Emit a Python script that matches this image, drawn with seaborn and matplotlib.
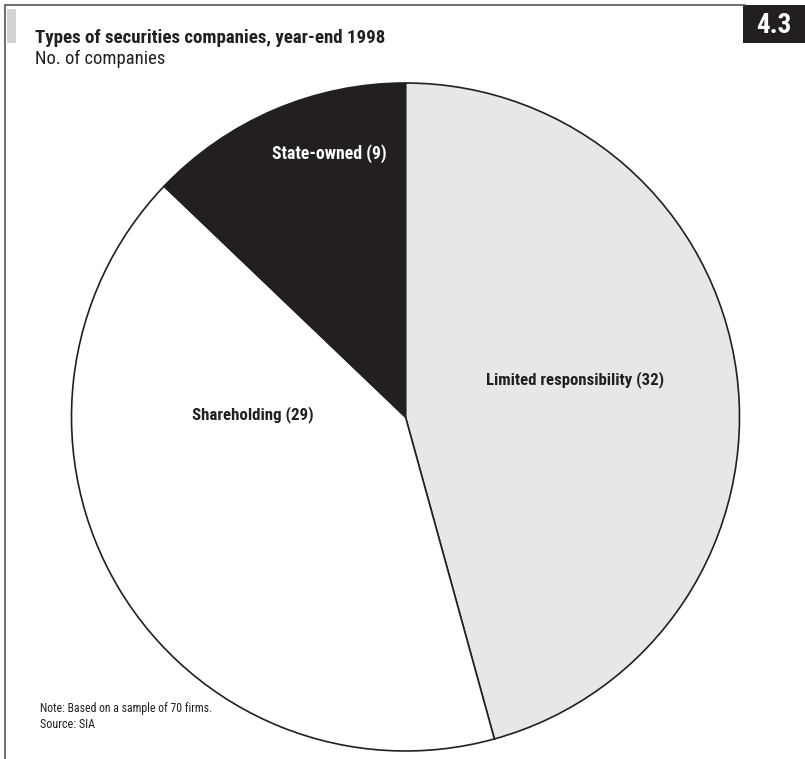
import matplotlib
matplotlib.use("Agg")
import matplotlib.pyplot as plt
import matplotlib.patches as mpatches
import seaborn as sns
from matplotlib import font_manager

# Data
categories = ["Limited responsibility", "Shareholding", "State-owned"]
counts = [32, 29, 9]
colors = ["#e6e7e8", "#ffffff", "#231f20"]
label_colors = ["#231f20", "#231f20", "#ffffff"]

title = "Types of securities companies, year-end 1998"
subtitle = "No. of companies"
note_lines = ["Note: Based on a sample of 70 firms.", "Source: SIA"]
chart_no = "4.3"

sns.set_theme(style="white")
names = {f.name for f in font_manager.fontManager.ttflist}
main_font = next((f for f in ["Roboto Condensed", "Open Sans Condensed",
                              "Liberation Sans Narrow", "Lato", "Open Sans"]
                  if f in names), "DejaVu Sans")
plt.rcParams["font.family"] = [main_font, "DejaVu Sans"]

W, H = 805, 759
fig = plt.figure(figsize=(W / 100, H / 100), dpi=100)
fig.patch.set_facecolor("white")

def px(x, y):
    return x / W, 1 - y / H

# frame lines and marker bar
fig.add_artist(plt.Line2D([5 / W, 5 / W], [0, 1 - 5 / H], color="#555555", lw=1.2))
fig.add_artist(plt.Line2D([5 / W, 745 / W], [1 - 5 / H, 1 - 5 / H], color="#555555", lw=1.2))
fig.add_artist(mpatches.Rectangle(px(7, 43), 9 / W, 34 / H, color="#d1d3d4", lw=0))
fig.add_artist(mpatches.Rectangle(px(743, 43), 62 / W, 38 / H, color="#231f20", lw=0))

renderer = fig.canvas.get_renderer()

def fit_text(x, y, s, target_w, weight="normal", color="#231f20", ha="left", va="baseline", size=12):
    t = fig.text(*px(x, y), s, fontsize=size, fontweight=weight, color=color, ha=ha, va=va)
    w = t.get_window_extent(renderer).width
    t.set_fontsize(size * target_w / w)
    return t

fit_text(35, 43, title, 350, weight="bold")
fit_text(35, 64, subtitle, 130)
fit_text(40, 712, note_lines[0], 171)
fit_text(40, 728, note_lines[1], 55)
fit_text(774, 33, chart_no, 35, weight="bold", color="white", ha="center")

# pie axes: centre (405.5, 417), radius 334 px
r = 334
cx, cy = 405.5, 417
ax = fig.add_axes([(cx - r) / W, (H - cy - r) / H, 2 * r / W, 2 * r / H])
ax.pie(counts, colors=colors, startangle=90, counterclock=False,
       wedgeprops=dict(edgecolor="#231f20", linewidth=1.2))
ax.set_xlim(-1, 1)
ax.set_ylim(-1, 1)
ax.set_aspect("equal")
ax.axis("off")

label_pos = [(0.507, 0.111), (-0.457, 0.006), (-0.229, 0.790)]
label_w = [178, 121, 114]
for (lx, ly), cat, n, c, tw in zip(label_pos, categories, counts, label_colors, label_w):
    t = ax.text(lx, ly, f"{cat} ({n})", ha="center", va="center", fontsize=10,
                fontweight="bold", color=c)
    w = t.get_window_extent(renderer).width
    t.set_fontsize(10 * tw / w)

fig.savefig("out.png", dpi=100, facecolor="white")
